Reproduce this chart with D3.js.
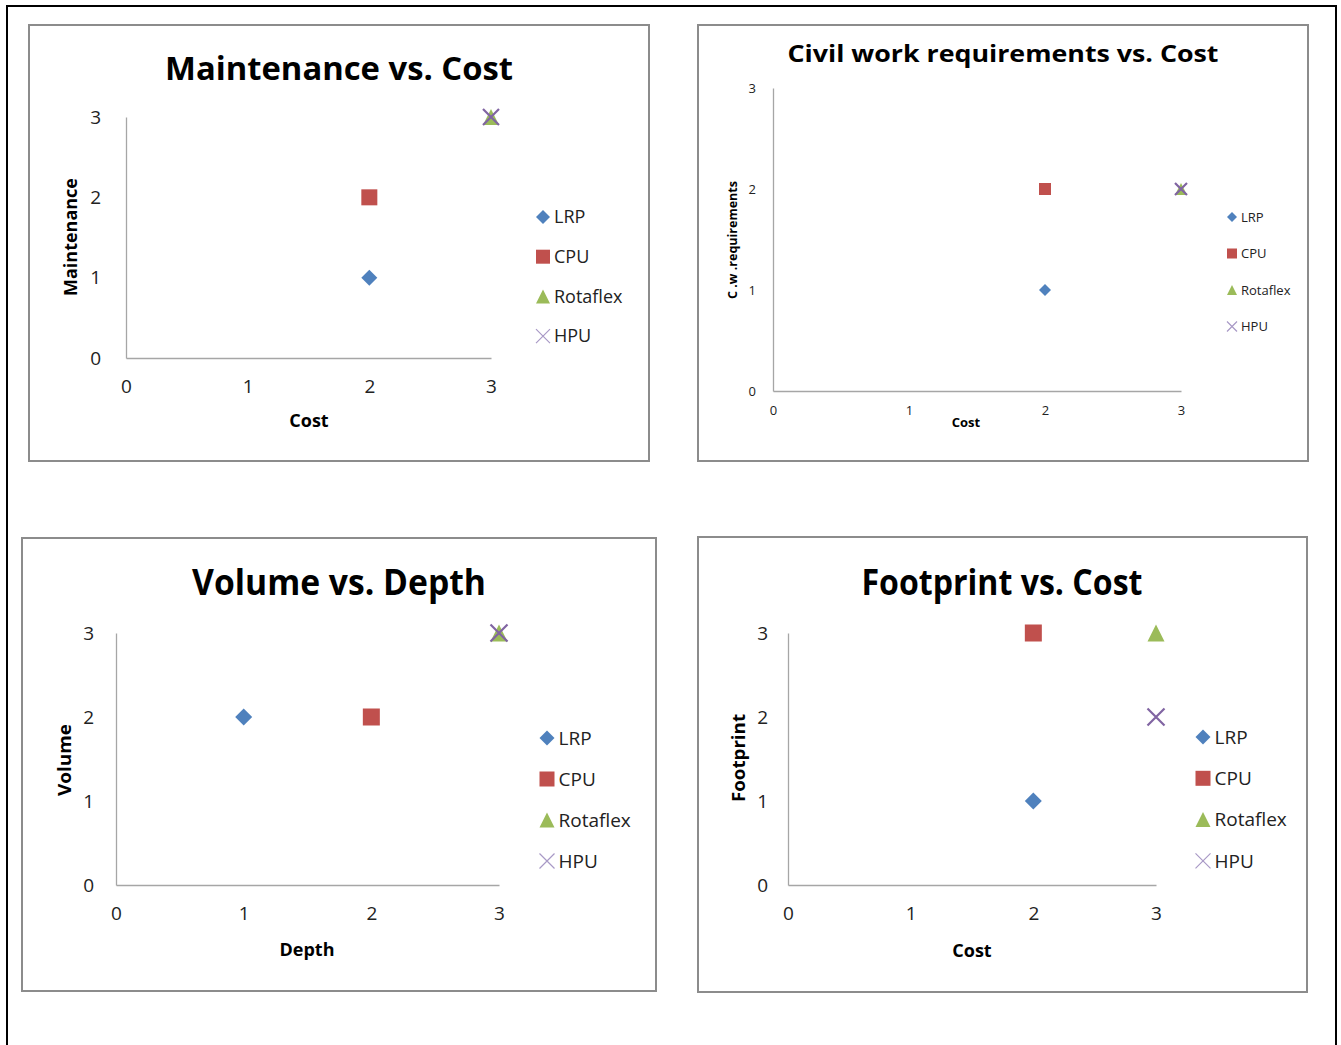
<!DOCTYPE html>
<html>
<head>
<meta charset="utf-8">
<script src="https://cdn.jsdelivr.net/npm/d3@7"></script>
<style>
  body { margin: 0; background: #fff; }
  text { font-family: "Open Sans", "Liberation Sans", sans-serif; }
</style>
</head>
<body>
<svg id="chart" width="1341" height="1045"></svg>
<script>
// series and tick values
const seriesNames = ["LRP", "CPU", "Rotaflex", "HPU"];
const seriesColors = ["#4f81bd", "#c0504d", "#9bbb59", "#8064a2"];
const tickValues = [0, 1, 2, 3];

// [x, y] per series, in seriesNames order
const maintenanceVsCost = [[2, 1], [2, 2], [3, 3], [3, 3]];
const civilVsCost = [[2, 1], [2, 2], [3, 2], [3, 2]];
const volumeVsDepth = [[1, 2], [2, 2], [3, 3], [3, 3]];
const footprintVsCost = [[2, 1], [2, 3], [3, 3], [3, 2]];

const svg = d3.select("#chart");

// outer page frame
svg.append("rect")
  .attr("x", 7).attr("y", 6)
  .attr("width", 1329).attr("height", 1100)
  .attr("fill", "none").attr("stroke", "#000").attr("stroke-width", 2);

// draws one marker of a series at (cx, cy), s = half size
function marker(g, i, cx, cy, s, legend) {
  const c = seriesColors[i];
  if (i === 0) {
    g.append("path")
      .attr("d", `M${cx},${cy - s}L${cx + s},${cy}L${cx},${cy + s}L${cx - s},${cy}Z`)
      .attr("fill", c);
  } else if (i === 1) {
    g.append("rect")
      .attr("x", cx - s).attr("y", cy - s)
      .attr("width", 2 * s).attr("height", 2 * s)
      .attr("fill", c);
  } else if (i === 2) {
    g.append("path")
      .attr("d", `M${cx},${cy - s}L${cx + s},${cy + s}L${cx - s},${cy + s}Z`)
      .attr("fill", c);
  } else {
    g.append("path")
      .attr("d", `M${cx - s},${cy - s}L${cx + s},${cy + s}M${cx + s},${cy - s}L${cx - s},${cy + s}`)
      .attr("stroke", legend ? "#a899c6" : c)
      .attr("stroke-width", legend ? 1.2 : 2.2)
      .attr("fill", "none");
  }
}

function drawPanel(p) {
  const g = svg.append("g");

  g.append("rect")
    .attr("x", p.box[0]).attr("y", p.box[1])
    .attr("width", p.box[2]).attr("height", p.box[3])
    .attr("fill", "#fff").attr("stroke", "#8c8c8c").attr("stroke-width", 2);

  g.append("text")
    .attr("x", p.title[0]).attr("y", p.title[1])
    .attr("text-anchor", "middle")
    .attr("font-weight", "bold")
    .attr("font-size", p.titleSize)
    .attr("textLength", p.titleLen)
    .attr("lengthAdjust", "spacingAndGlyphs")
    .text(p.titleText);

  const x = d3.scaleLinear().domain([0, 3]).range([p.x0, p.x3]);
  const y = d3.scaleLinear().domain([0, 3]).range([p.y0, p.y3]);

  // axes: plain gray lines, no tick marks
  const xAxis = g.append("g")
    .attr("transform", `translate(0,${p.y0})`)
    .call(d3.axisBottom(x).tickValues(tickValues).tickFormat(d3.format("d")).tickSize(0).tickPadding(p.xPad));
  const yAxis = g.append("g")
    .attr("transform", `translate(${p.x0},0)`)
    .call(d3.axisLeft(y).tickValues(tickValues).tickFormat(d3.format("d")).tickSize(0).tickPadding(p.yPad));
  [xAxis, yAxis].forEach(a => {
    a.select(".domain").attr("stroke", "#a6a6a6").attr("stroke-width", 1.3);
    a.selectAll("text")
      .attr("font-size", p.tickSize)
      .attr("fill", "#222")
      .style("font-family", "'Open Sans', sans-serif");
  });

  g.append("text")
    .attr("x", p.xTitle[0]).attr("y", p.xTitle[1])
    .attr("text-anchor", "middle")
    .attr("font-weight", "bold")
    .attr("font-size", p.axisTitleSize)
    .text(p.xLabel);

  g.append("text")
    .attr("transform", `translate(${p.yTitle[0]},${p.yTitle[1]}) rotate(-90)`)
    .attr("text-anchor", "middle")
    .attr("font-weight", "bold")
    .attr("font-size", p.axisTitleSize)
    .attr("textLength", p.yTitleLen || null)
    .attr("lengthAdjust", "spacingAndGlyphs")
    .text(p.yLabel);

  // points
  p.data.forEach((d, i) => marker(g, i, x(d[0]), y(d[1]), p.markSize, false));

  // legend
  seriesNames.forEach((name, i) => {
    const ly = p.legend[1] + i * p.legendGap;
    marker(g, i, p.legend[0], ly, p.legendMark, true);
    g.append("text")
      .attr("x", p.legend[0] + p.legendMark + 4)
      .attr("y", ly)
      .attr("dy", "0.35em")
      .attr("font-size", p.legendSize)
      .attr("fill", "#222")
      .text(name);
  });
}

drawPanel({
  box: [29, 25, 620, 436],
  titleText: "Maintenance vs. Cost", title: [339, 80], titleSize: 33, titleLen: 348,
  x0: 126, x3: 491, y0: 358, y3: 117,
  xPad: 22, yPad: 25, tickSize: 19,
  xLabel: "Cost", xTitle: [309, 427], yLabel: "Maintenance", yTitle: [77, 237], axisTitleSize: 18, yTitleLen: 118,
  data: maintenanceVsCost, markSize: 8,
  legend: [543, 217], legendGap: 39.7, legendMark: 7, legendSize: 18
});

drawPanel({
  box: [698, 25, 610, 436],
  titleText: "Civil work requirements vs. Cost", title: [1003, 62], titleSize: 24, titleLen: 431,
  x0: 773, x3: 1181, y0: 391, y3: 88,
  xPad: 15, yPad: 17, tickSize: 13,
  xLabel: "Cost", xTitle: [966, 427], yLabel: "C .w .requirements", yTitle: [737, 240], axisTitleSize: 13, yTitleLen: 118,
  data: civilVsCost, markSize: 6,
  legend: [1232, 217], legendGap: 36.5, legendMark: 5, legendSize: 13
});

drawPanel({
  box: [22, 538, 634, 453],
  titleText: "Volume vs. Depth", title: [339, 595], titleSize: 35, titleLen: 294,
  x0: 116, x3: 499, y0: 885, y3: 633,
  xPad: 22, yPad: 22, tickSize: 19,
  xLabel: "Depth", xTitle: [307, 956], yLabel: "Volume", yTitle: [71, 760], axisTitleSize: 18, yTitleLen: 72,
  data: volumeVsDepth, markSize: 8.5,
  legend: [547, 738], legendGap: 41, legendMark: 7.5, legendSize: 19
});

drawPanel({
  box: [698, 537, 609, 455],
  titleText: "Footprint vs. Cost", title: [1002, 595], titleSize: 35, titleLen: 281,
  x0: 788, x3: 1156, y0: 885, y3: 633,
  xPad: 22, yPad: 20, tickSize: 19,
  xLabel: "Cost", xTitle: [972, 957], yLabel: "Footprint", yTitle: [745, 758], axisTitleSize: 18, yTitleLen: 88,
  data: footprintVsCost, markSize: 8.5,
  legend: [1203, 737], legendGap: 41.3, legendMark: 7.5, legendSize: 19
});
</script>
</body>
</html>
